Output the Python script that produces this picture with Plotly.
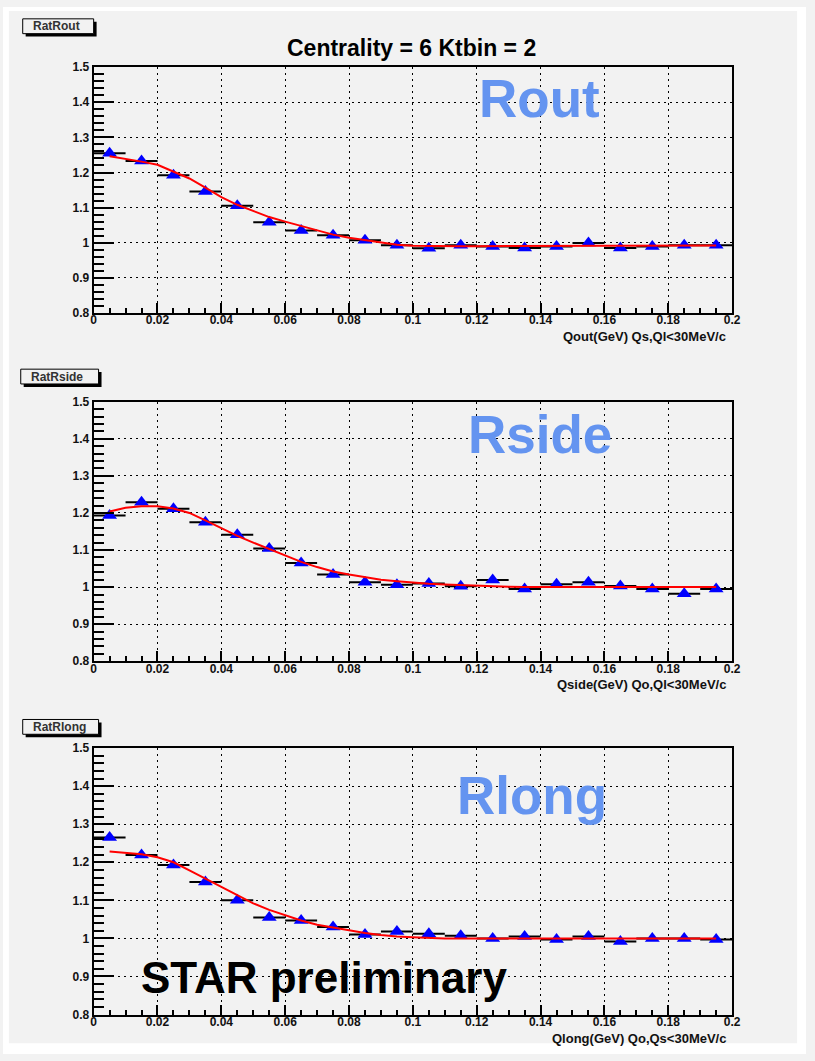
import plotly.graph_objects as go

# ---- data -------------------------------------------------------------
# bin centres (GeV)
q_bins = [0.005, 0.015, 0.025, 0.035, 0.045, 0.055, 0.065, 0.075, 0.085, 0.095,
          0.105, 0.115, 0.125, 0.135, 0.145, 0.155, 0.165, 0.175, 0.185, 0.195]
half_bin = 0.005

rat_rout = [1.255, 1.233, 1.192, 1.146, 1.105, 1.058, 1.035, 1.021, 1.007, 0.993,
            0.984, 0.993, 0.989, 0.985, 0.989, 0.999, 0.985, 0.989, 0.993, 0.993]
rat_rside = [1.193, 1.229, 1.211, 1.175, 1.141, 1.104, 1.065, 1.034, 1.013, 1.006,
             1.010, 1.002, 1.019, 0.995, 1.008, 1.013, 1.003, 0.995, 0.982, 0.995]
rat_rlong = [1.265, 1.219, 1.193, 1.148, 1.100, 1.055, 1.047, 1.030, 1.010, 1.018,
             1.012, 1.007, 1.000, 1.005, 0.997, 1.005, 0.992, 1.000, 1.000, 0.997]

# fit curves sampled along q
fit_q = [0.005, 0.010, 0.015, 0.020, 0.025, 0.030, 0.035, 0.040, 0.045, 0.050,
         0.055, 0.060, 0.065, 0.070, 0.075, 0.080, 0.085, 0.090, 0.095, 0.100,
         0.105, 0.110, 0.115, 0.120, 0.125, 0.130, 0.135, 0.140, 0.145, 0.150,
         0.155, 0.160, 0.165, 0.170, 0.175, 0.180, 0.185, 0.190, 0.195]
fit_rout = [1.246, 1.239, 1.231, 1.222, 1.203, 1.183, 1.157, 1.130, 1.108, 1.090,
            1.073, 1.060, 1.047, 1.035, 1.023, 1.014, 1.007, 0.999, 0.994, 0.991,
            0.990, 0.990, 0.990, 0.990, 0.990, 0.990, 0.990, 0.990, 0.990, 0.990,
            0.992, 0.992, 0.992, 0.992, 0.992, 0.992, 0.992, 0.992, 0.992]
fit_rside = [1.204, 1.214, 1.218, 1.218, 1.212, 1.200, 1.180, 1.158, 1.138, 1.120,
             1.103, 1.084, 1.068, 1.054, 1.042, 1.034, 1.027, 1.020, 1.016, 1.012,
             1.009, 1.007, 1.005, 1.003, 1.002, 1.001, 1.000, 1.000, 1.000, 1.000,
             1.000, 1.000, 1.000, 1.000, 1.000, 1.000, 1.000, 1.000, 1.000]
fit_rlong = [1.228, 1.225, 1.221, 1.213, 1.200, 1.179, 1.157, 1.135, 1.113, 1.092,
             1.075, 1.060, 1.047, 1.036, 1.028, 1.020, 1.014, 1.009, 1.005, 1.003,
             1.001, 1.000, 1.000, 1.000, 1.000, 1.000, 1.000, 1.000, 1.000, 1.000,
             1.000, 1.000, 1.000, 1.000, 1.000, 1.000, 1.000, 1.000, 1.000]

panels = [
    dict(name="RatRout", ratio=rat_rout, fit=fit_rout, label="Rout",
         xtitle="Qout(GeV) Qs,Ql<30MeV/c"),
    dict(name="RatRside", ratio=rat_rside, fit=fit_rside, label="Rside",
         xtitle="Qside(GeV) Qo,Ql<30MeV/c"),
    dict(name="RatRlong", ratio=rat_rlong, fit=fit_rlong, label="Rlong",
         xtitle="Qlong(GeV) Qo,Qs<30MeV/c"),
]

# ---- page geometry (pixels) -------------------------------------------
W, H = 815, 1061
FONT = "Liberation Sans, Arial, Helvetica, sans-serif"
CANVAS = "#f2f2f2"


def fx(px):
    return px / W


def fy(py):
    return 1 - py / H


frame_left, frame_right = 92, 740
# (top, bottom) of each frame, box of the name tag, label centre
frames = [(61, 310), (400, 663), (751, 1021)]
tags = [(20, 12, 92, 27), (18, 367, 97, 382), (20, 722, 97, 737)]
big_label_pos = [(545, 93), (545, 433), (537, 799)]

fig = go.Figure()
annotations = []
shapes = []

# white border around the grey canvas
for x0, y0, x1, y1 in [(0, 0, 6, H), (806, 0, W, H), (0, 0, W, 4), (0, 1050, W, H)]:
    shapes.append(dict(type="rect", xref="paper", yref="paper",
                       x0=fx(x0), x1=fx(x1), y0=fy(y1), y1=fy(y0),
                       fillcolor="white", line=dict(width=0), layer="below"))

for i, p in enumerate(panels):
    k = "" if i == 0 else str(i + 1)
    xa, ya = "x" + k, "y" + k
    top, bot = frames[i]

    # data points with bin-width horizontal bars
    fig.add_trace(go.Scatter(
        x=q_bins, y=p["ratio"], xaxis=xa, yaxis=ya, mode="markers",
        marker=dict(symbol="triangle-up", size=13, color="#0000ff",
                    line=dict(width=0)),
        error_x=dict(type="constant", value=half_bin, color="black",
                     thickness=2, width=0),
        showlegend=False, name=p["name"]))
    # fit curve
    fig.add_trace(go.Scatter(
        x=fit_q, y=p["fit"], xaxis=xa, yaxis=ya, mode="lines",
        line=dict(color="#ff0000", width=2), showlegend=False))

    common = dict(showline=True, linecolor="black", linewidth=2, mirror=True,
                  ticks="inside", tickcolor="black", showgrid=True,
                  gridcolor="black", griddash="2px,4px", gridwidth=1,
                  zeroline=False,
                  tickfont=dict(family=FONT, size=12, color="#111111", weight="bold"))
    fig.layout["xaxis" + k] = dict(
        domain=[fx(frame_left), fx(frame_right)], range=[0, 0.2], anchor=ya,
        tick0=0, dtick=0.02, ticklen=10, tickwidth=2, ticklabelstandoff=-5,
        minor=dict(ticks="inside", ticklen=5, dtick=0.005, tickcolor="black",
                   tickwidth=1.5, showgrid=False),
        **common)
    fig.layout["yaxis" + k] = dict(
        domain=[fy(bot), fy(top)], range=[0.8, 1.5], anchor=xa,
        tick0=0.8, dtick=0.1, ticklen=20, tickwidth=2,
        minor=dict(ticks="inside", ticklen=10, dtick=0.02, tickcolor="black",
                   tickwidth=1.5, showgrid=False),
        **common)

    # axis title under the frame, right aligned
    annotations.append(dict(
        xref="paper", yref="paper", x=fx(736), y=fy(bot + 24),
        xanchor="right", yanchor="middle", showarrow=False, text=p["xtitle"],
        font=dict(family=FONT, size=13, color="#111111", weight="bold")))

    # name tag box with drop shadow
    x0, y0, x1, y1 = tags[i]
    shapes.append(dict(type="rect", xref="paper", yref="paper",
                       x0=fx(x0 + 3), x1=fx(x1 + 3), y0=fy(y1 + 3), y1=fy(y0 + 3),
                       fillcolor="black", line=dict(width=0)))
    shapes.append(dict(type="rect", xref="paper", yref="paper",
                       x0=fx(x0), x1=fx(x1), y0=fy(y1), y1=fy(y0),
                       fillcolor=CANVAS, line=dict(color="black", width=1)))
    annotations.append(dict(
        xref="paper", yref="paper", x=fx(x0 + 8), y=fy((y0 + y1) / 2),
        xanchor="left", yanchor="middle", showarrow=False, text=p["name"],
        font=dict(family=FONT, size=12, color="#333333", weight="bold")))

    # large coloured label
    lx, ly = big_label_pos[i]
    annotations.append(dict(
        xref="paper", yref="paper", x=fx(lx), y=fy(ly),
        xanchor="center", yanchor="middle", showarrow=False, text=p["label"],
        font=dict(family=FONT, size=53, color="#6494f0", weight="bold")))

annotations.append(dict(
    xref="paper", yref="paper", x=fx(415), y=fy(42), xanchor="center",
    yanchor="middle", showarrow=False, text="Centrality = 6 Ktbin = 2",
    font=dict(family=FONT, size=23, color="black", weight="bold")))
annotations.append(dict(
    xref="paper", yref="paper", x=fx(326), y=fy(983), xanchor="center",
    yanchor="middle", showarrow=False, text="STAR preliminary",
    font=dict(family=FONT, size=44, color="black", weight="bold")))

fig.update_layout(
    width=W, height=H, margin=dict(l=0, r=0, t=0, b=0),
    paper_bgcolor=CANVAS, plot_bgcolor=CANVAS,
    annotations=annotations, shapes=shapes, showlegend=False)

fig.write_html("out.html")
